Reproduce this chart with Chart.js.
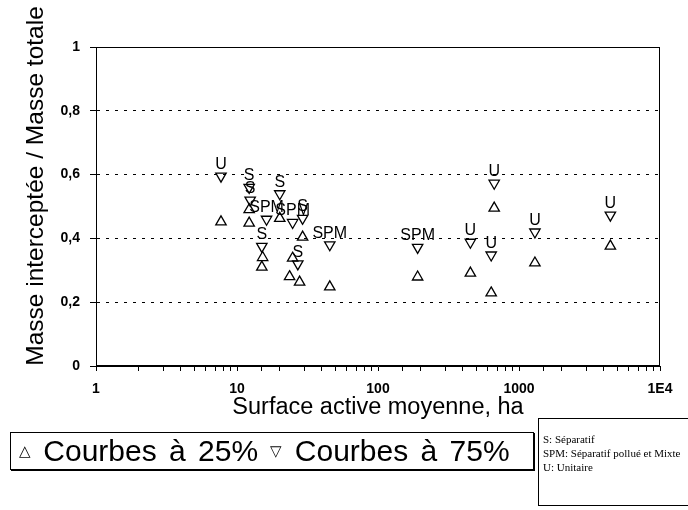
<!DOCTYPE html>
<html>
<head>
<meta charset="utf-8">
<script src="https://cdn.jsdelivr.net/npm/chart.js@4.4.1/dist/chart.umd.min.js"></script>
<style>
  body { margin: 0; background: #fff; }
  #wrap { position: relative; width: 688px; height: 510px; overflow: hidden; }
  #legendBox {
    position: absolute; left: 10px; top: 432px; width: 524px; height: 38px;
    border: 1px solid #000; box-shadow: 1px 1px 0 #000; box-sizing: border-box;
    font: 30px "Liberation Sans", Arial, sans-serif; line-height: 36px;
    padding: 0 0 0 8px; white-space: nowrap; color: #000; word-spacing: 4px;
  }
  #legendBox .mk { font-size: 15px; vertical-align: 5px; }
  #noteBox {
    position: absolute; left: 538px; top: 418px; width: 160px; height: 88px;
    border: 1px solid #000; font: 11px "Liberation Serif", "Times New Roman", serif;
    line-height: 14px; padding: 13px 4px; color: #000; box-sizing: border-box;
    white-space: nowrap;
  }
</style>
</head>
<body>
<div id="wrap">
  <canvas id="myChart" width="688" height="510"></canvas>
  <div id="legendBox"><span class="mk">&#9651;</span> Courbes à 25% <span class="mk">&#9661;</span> Courbes à 75%</div>
  <div id="noteBox">S: Séparatif<br>SPM: Séparatif pollué et Mixte<br>U: Unitaire</div>
</div>
<script>
// Surface active (ha) and share of intercepted mass, 25% curves
const area25 = [7.7, 12.2, 12.2, 15.2, 15.0, 20.1, 29.2, 24.8, 23.6, 27.8, 45.5, 191, 452, 667, 635, 1297, 4446]
const share25 = [0.452, 0.49, 0.448, 0.34, 0.31, 0.463, 0.404, 0.338, 0.28, 0.263, 0.248, 0.279, 0.291, 0.495, 0.229, 0.323, 0.376]

// 75% curves, with network type
const area75 = [7.7, 12.2, 12.4, 16.2, 15.0, 20.1, 24.8, 29.2, 27.0, 45.5, 191, 452, 667, 635, 1297, 4446]
const share75 = [0.595, 0.56, 0.52, 0.46, 0.375, 0.54, 0.45, 0.463, 0.32, 0.38, 0.372, 0.388, 0.573, 0.348, 0.42, 0.473]
const type75 = ['U', 'S', 'S', 'SPM', 'S', 'S', 'SPM', 'S', 'S', 'SPM', 'SPM', 'U', 'U', 'U', 'U', 'U']

const xTickValues = [1, 10, 100, 1000, 10000]
const xTickLabels = ['1', '10', '100', '1000', '1E4']
const yTickValues = [0, 0.2, 0.4, 0.6, 0.8, 1]
const yTickLabels = ['0', '0,2', '0,4', '0,6', '0,8', '1']

const toPoints = (xs, ys) => xs.map((x, i) => ({ x: x, y: ys[i] }))

// point labels + frame + rotated y title
const extras = {
  id: 'extras',
  afterDatasetsDraw(chart) {
    const ctx = chart.ctx
    const meta = chart.getDatasetMeta(1)
    ctx.save()
    ctx.fillStyle = '#000'
    ctx.font = '16px "Liberation Sans", Arial, sans-serif'
    ctx.textAlign = 'center'
    ctx.textBaseline = 'alphabetic'
    meta.data.forEach((pt, i) => {
      ctx.fillText(type75[i], pt.x, pt.y - 7)
    })
    const a = chart.chartArea
    ctx.strokeStyle = '#000'
    ctx.lineWidth = 1
    ctx.strokeRect(a.left + 0.5, a.top + 0.5, a.right - a.left - 1, a.bottom - a.top - 1)
    ctx.translate(36, 186)
    ctx.rotate(-Math.PI / 2)
    ctx.font = '24.5px "Liberation Sans", Arial, sans-serif'
    ctx.textBaseline = 'middle'
    ctx.fillText('Masse interceptée / Masse totale', 0, 0)
    ctx.restore()
  }
}

const tickFont = { family: '"Liberation Sans", Arial, sans-serif', size: 14, weight: 'bold' }

new Chart(document.getElementById('myChart'), {
  type: 'scatter',
  data: {
    datasets: [
      {
        label: 'Courbes à 25%',
        data: toPoints(area25, share25),
        pointStyle: 'triangle',
        rotation: 0,
        radius: 6,
        borderWidth: 1.3,
        borderColor: '#000',
        backgroundColor: 'transparent'
      },
      {
        label: 'Courbes à 75%',
        data: toPoints(area75, share75),
        pointStyle: 'triangle',
        rotation: 180,
        radius: 6,
        borderWidth: 1.3,
        borderColor: '#000',
        backgroundColor: 'transparent'
      }
    ]
  },
  options: {
    responsive: false,
    animation: false,
    layout: { padding: { top: 47, right: 28, bottom: 88, left: 0 } },
    plugins: {
      legend: { display: false },
      tooltip: { enabled: false }
    },
    scales: {
      x: {
        type: 'logarithmic',
        min: 1,
        max: 10000,
        afterFit(scale) { scale.height = 56 },
        grid: { drawOnChartArea: false, drawTicks: true, tickLength: 5, tickColor: '#000' },
        border: { color: '#000', width: 1 },
        ticks: {
          autoSkip: false,
          maxRotation: 0,
          padding: 10,
          color: '#000',
          font: tickFont,
          callback(value) {
            const i = xTickValues.indexOf(value)
            return i >= 0 ? xTickLabels[i] : ''
          }
        },
        title: {
          display: true,
          text: 'Surface active moyenne, ha',
          color: '#000',
          font: { family: '"Liberation Sans", Arial, sans-serif', size: 23.5 },
          padding: { top: 0, bottom: 0 }
        }
      },
      y: {
        min: 0,
        max: 1,
        afterFit(scale) { scale.width = 96 },
        afterBuildTicks(scale) { scale.ticks = yTickValues.map(v => ({ value: v })) },
        grid: {
          color: ctx => (ctx.tick && ctx.tick.value > 0 && ctx.tick.value < 1) ? '#000' : 'transparent',
          tickColor: '#000',
          tickLength: 6
        },
        border: { color: '#000', width: 1, dash: [3, 6] },
        ticks: {
          padding: 10,
          color: '#000',
          font: tickFont,
          callback(value) {
            const i = yTickValues.indexOf(value)
            return i >= 0 ? yTickLabels[i] : ''
          }
        }
      }
    }
  },
  plugins: [extras]
})
</script>
</body>
</html>
